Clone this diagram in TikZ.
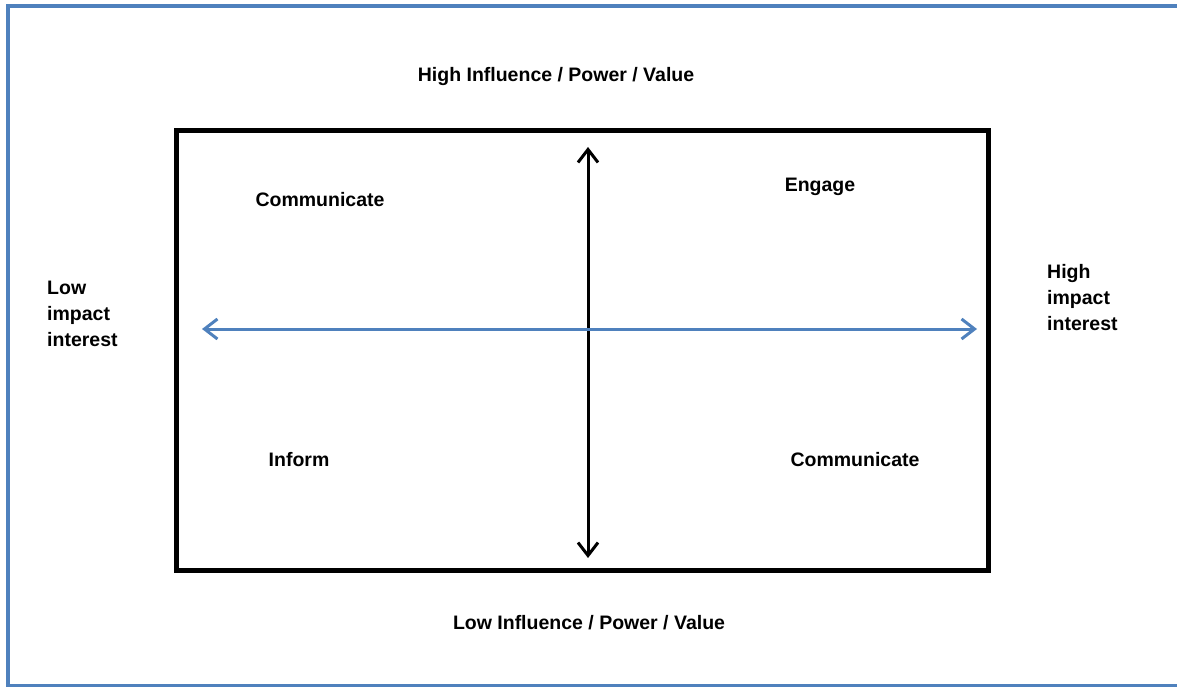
\documentclass[tikz,border=0pt]{standalone}
\usepackage{fontspec}
\setmainfont{Liberation Sans}
\usetikzlibrary{arrows.meta}
\definecolor{frameblue}{HTML}{4F81BD}
\tikzset{
  lbl/.style={font=\fontsize{19.5}{26}\selectfont\bfseries, inner sep=0pt},
  axis/.style={line width=3pt, {Straight Barb[length=13pt,width=20pt]}-{Straight Barb[length=13pt,width=20pt]}}
}
\begin{document}
\begin{tikzpicture}[x=1pt,y=-1pt]
  \useasboundingbox (0,0) rectangle (1177,687);
  \clip (0,0) rectangle (1177,687);
  % outer frame
  \draw[frameblue, line width=4pt] (8,6) rectangle (1195,686);
  % grid box
  \draw[line width=5pt] (176,131) rectangle (988,570);
  \coordinate (vtop) at (588,147);
  \coordinate (vbot) at (588,558);
  \coordinate (hleft) at (202,329);
  \coordinate (hright) at (977,329);
  \draw[axis] (vtop) to (vbot);
  \draw[axis, frameblue] (hleft) to (hright);
  % labels
  \draw
    (556,77) node[lbl] (high){High Influence / Power / Value}
    (589,623) node[lbl] (low){Low Influence / Power / Value}
    (320,200) node[lbl] (comm1){Communicate}
    (820,187) node[lbl] (engage){Engage}
    (299,460) node[lbl] (inform){Inform}
    (855,460) node[lbl] (comm2){Communicate}
    (47,314) node[lbl, anchor=west, align=left] (lowimp){Low\\impact\\interest}
    (1047,298) node[lbl, anchor=west, align=left] (highimp){High\\impact\\interest};
\end{tikzpicture}
\end{document}
